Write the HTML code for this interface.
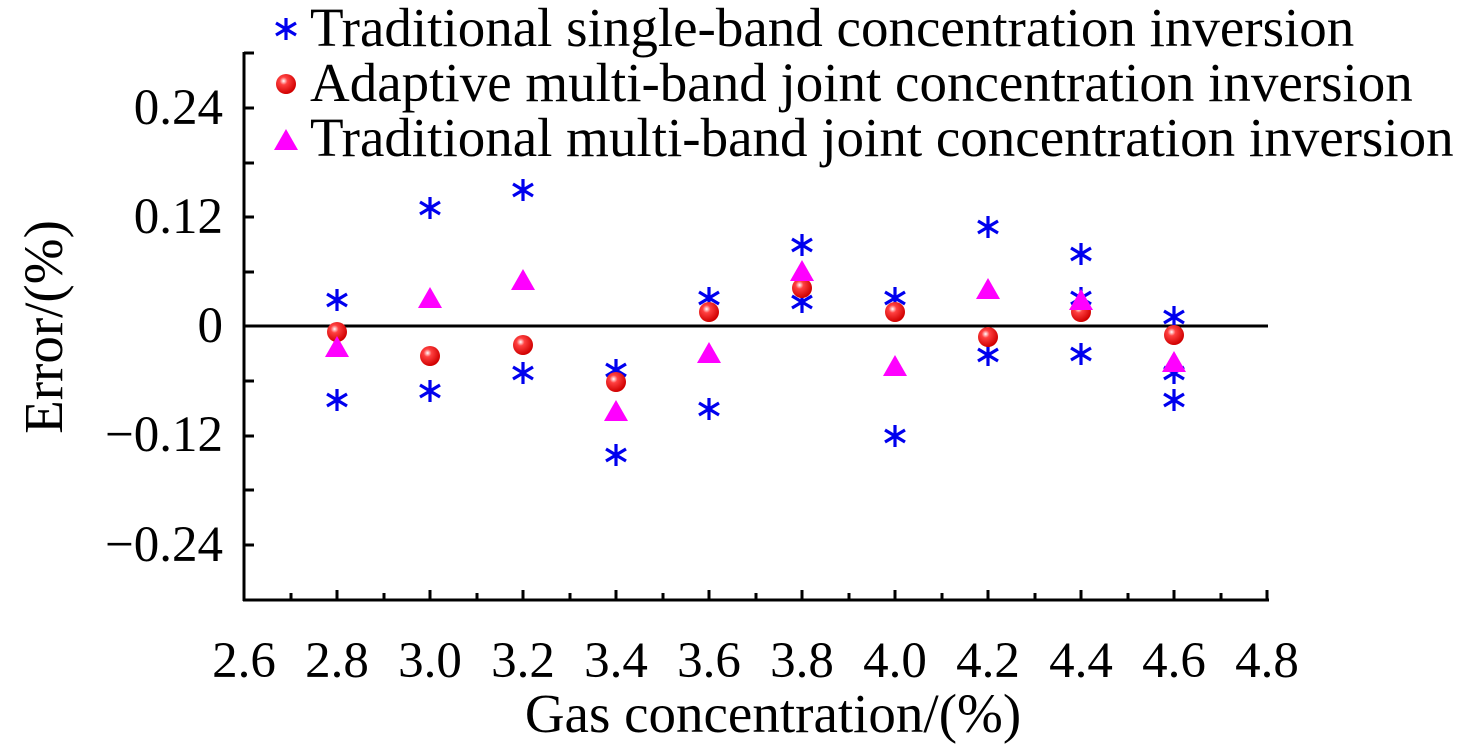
<!DOCTYPE html>
<html><head><meta charset="utf-8"><style>
html,body{margin:0;padding:0;background:#fff;}
svg{display:block;}
text{font-family:"Liberation Serif",serif;fill:#000;}
</style></head><body>
<svg width="1476" height="749" viewBox="0 0 1476 749" xmlns="http://www.w3.org/2000/svg">
<defs>
<radialGradient id="rg" cx="0.38" cy="0.35" r="0.65">
<stop offset="0" stop-color="#fff"/><stop offset="0.3" stop-color="#ff4040"/><stop offset="1" stop-color="#d00000"/>
</radialGradient>
<g id="st" stroke="#0000ee" stroke-width="3.2"><line x1="0" y1="-11" x2="0" y2="11"/><line x1="-10" y1="-6" x2="10" y2="6"/><line x1="-10" y1="6" x2="10" y2="-6"/></g>
<circle id="ci" r="10" fill="url(#rg)"/>
<polygon id="tr" points="0,-11 12,10 -12,10" fill="#ff00ff"/>
</defs>
<g stroke="#000" stroke-width="3" fill="none">
<line x1="244" y1="52" x2="244" y2="601"/>
<line x1="243" y1="600" x2="1269" y2="600"/>
<line x1="244" y1="326" x2="1268" y2="326"/>
<line x1="244" y1="53" x2="254" y2="53"/>
<line x1="244" y1="108" x2="254" y2="108"/>
<line x1="244" y1="163" x2="254" y2="163"/>
<line x1="244" y1="217" x2="254" y2="217"/>
<line x1="244" y1="272" x2="254" y2="272"/>
<line x1="244" y1="381" x2="254" y2="381"/>
<line x1="244" y1="436" x2="254" y2="436"/>
<line x1="244" y1="490" x2="254" y2="490"/>
<line x1="244" y1="545" x2="254" y2="545"/>
<line x1="291" y1="600" x2="291" y2="593"/>
<line x1="337" y1="600" x2="337" y2="590"/>
<line x1="384" y1="600" x2="384" y2="593"/>
<line x1="430" y1="600" x2="430" y2="590"/>
<line x1="477" y1="600" x2="477" y2="593"/>
<line x1="523" y1="600" x2="523" y2="590"/>
<line x1="570" y1="600" x2="570" y2="593"/>
<line x1="616" y1="600" x2="616" y2="590"/>
<line x1="663" y1="600" x2="663" y2="593"/>
<line x1="709" y1="600" x2="709" y2="590"/>
<line x1="756" y1="600" x2="756" y2="593"/>
<line x1="802" y1="600" x2="802" y2="590"/>
<line x1="849" y1="600" x2="849" y2="593"/>
<line x1="895" y1="600" x2="895" y2="590"/>
<line x1="942" y1="600" x2="942" y2="593"/>
<line x1="988" y1="600" x2="988" y2="590"/>
<line x1="1035" y1="600" x2="1035" y2="593"/>
<line x1="1081" y1="600" x2="1081" y2="590"/>
<line x1="1128" y1="600" x2="1128" y2="593"/>
<line x1="1174" y1="600" x2="1174" y2="590"/>
<line x1="1221" y1="600" x2="1221" y2="593"/>
<line x1="1267" y1="600" x2="1267" y2="590"/>
</g>
<g font-size="51" text-anchor="end">
<text x="223" y="124">0.24</text>
<text x="223" y="233">0.12</text>
<text x="223" y="342">0</text>
<text x="223" y="451">−0.12</text>
<text x="223" y="561">−0.24</text>
</g>
<g font-size="51" text-anchor="middle">
<text x="244" y="677">2.6</text><text x="337" y="677">2.8</text><text x="430" y="677">3.0</text>
<text x="523" y="677">3.2</text><text x="616" y="677">3.4</text><text x="709" y="677">3.6</text>
<text x="802" y="677">3.8</text><text x="895" y="677">4.0</text><text x="988" y="677">4.2</text>
<text x="1081" y="677">4.4</text><text x="1174" y="677">4.6</text><text x="1267" y="677">4.8</text>
</g>
<text x="773" y="732" font-size="55" text-anchor="middle">Gas concentration/(%)</text>
<text transform="translate(62,327) rotate(-90)" font-size="55" text-anchor="middle">Error/(%)</text>
<use href="#st" x="286" y="29"/>
<use href="#ci" x="286" y="84"/>
<use href="#tr" x="286" y="140"/>
<g font-size="55">
<text x="310" y="46">Traditional single-band concentration inversion</text>
<text x="310" y="101">Adaptive multi-band joint concentration inversion</text>
<text x="310" y="156">Traditional multi-band joint concentration inversion</text>
</g>
<use href="#st" x="337" y="300"/><use href="#st" x="337" y="400"/>
<use href="#st" x="430" y="208"/><use href="#st" x="430" y="391"/>
<use href="#st" x="523" y="190"/><use href="#st" x="523" y="373"/>
<use href="#st" x="616" y="370"/><use href="#st" x="616" y="455"/>
<use href="#st" x="709" y="298"/><use href="#st" x="709" y="409"/>
<use href="#st" x="802" y="245"/><use href="#st" x="802" y="302"/>
<use href="#st" x="895" y="298"/><use href="#st" x="895" y="436"/>
<use href="#st" x="988" y="227"/><use href="#st" x="988" y="355"/>
<use href="#st" x="1081" y="254"/><use href="#st" x="1081" y="298"/><use href="#st" x="1081" y="354"/>
<use href="#st" x="1174" y="317"/><use href="#st" x="1174" y="373"/><use href="#st" x="1174" y="400"/>
<use href="#ci" x="337" y="332"/><use href="#ci" x="430" y="356"/><use href="#ci" x="523" y="345"/>
<use href="#ci" x="616" y="382"/><use href="#ci" x="709" y="312"/><use href="#ci" x="802" y="288"/>
<use href="#ci" x="895" y="312"/><use href="#ci" x="988" y="337"/><use href="#ci" x="1081" y="312"/>
<use href="#ci" x="1174" y="335"/>
<use href="#tr" x="337" y="347"/><use href="#tr" x="430" y="298"/><use href="#tr" x="523" y="280"/>
<use href="#tr" x="616" y="411"/><use href="#tr" x="709" y="353"/><use href="#tr" x="802" y="271"/>
<use href="#tr" x="895" y="366"/><use href="#tr" x="988" y="289"/><use href="#tr" x="1081" y="300"/>
<use href="#tr" x="1174" y="362"/>
</svg>
</body></html>
